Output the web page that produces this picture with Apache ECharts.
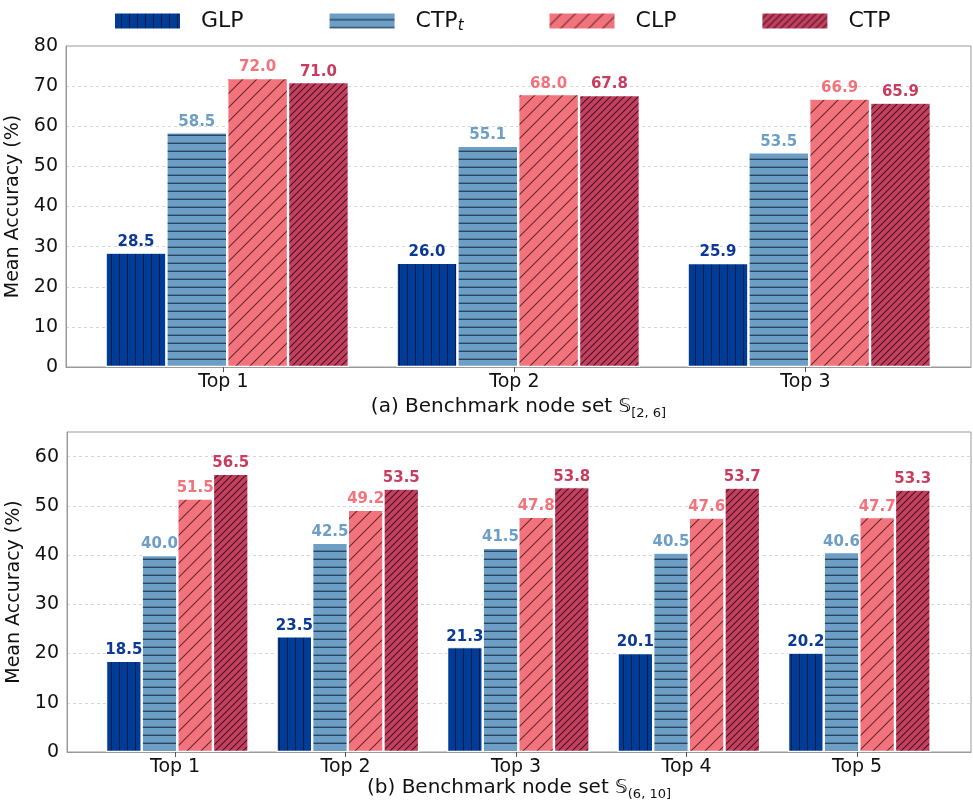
<!DOCTYPE html>
<html><head><meta charset="utf-8">
<script src="https://cdn.jsdelivr.net/npm/echarts@6/dist/echarts.min.js"></script>
<style>html,body{margin:0;padding:0;background:#fff}#c{width:973px;height:803px}</style>
</head><body><div id="c"></div>
<script>
// ---- data ----
const seriesNames = ['GLP', 'CTP_t', 'CLP', 'CTP'];
const catsA = ['Top 1', 'Top 2', 'Top 3'];
const glpA  = [28.5, 26.0, 25.9];
const ctptA = [58.5, 55.1, 53.5];
const clpA  = [72.0, 68.0, 66.9];
const ctpA  = [71.0, 67.8, 65.9];
const catsB = ['Top 1', 'Top 2', 'Top 3', 'Top 4', 'Top 5'];
const glpB  = [18.5, 23.5, 21.3, 20.1, 20.2];
const ctptB = [40.0, 42.5, 41.5, 40.5, 40.6];
const clpB  = [51.5, 49.2, 47.8, 47.6, 47.7];
const ctpB  = [56.5, 53.5, 53.8, 53.7, 53.3];
const yTicksA = [0, 10, 20, 30, 40, 50, 60, 70, 80];
const yTicksB = [0, 10, 20, 30, 40, 50, 60];

// ---- styles ----
const FONT = 'DejaVu Sans';
const colors = ['#003c96', '#6c9ec6', '#f2737c', '#c4405f'];
const lineColors = ['#0b1f4e', '#2a4560', '#6a2830', '#4a1224'];
const labelColors = ['#0a3a96', '#6c9ec6', '#f2737c', '#c83d5e'];
const TICK_SHIFT = -0.013;

function makePattern(bg, lc, type) {
  const cv = document.createElement('canvas');
  let s = 8;
  if (type === 'diag') s = 14;
  if (type === 'diag2') s = 7;
  cv.width = s; cv.height = s;
  const g = cv.getContext('2d');
  g.fillStyle = bg; g.fillRect(0, 0, s, s);
  g.strokeStyle = lc; g.lineWidth = 1.1;
  g.beginPath();
  if (type === 'v') { g.moveTo(s - 0.5, 0); g.lineTo(s - 0.5, s); }
  else if (type === 'h') { g.lineWidth = 1.4; g.moveTo(0, s - 0.7); g.lineTo(s, s - 0.7); }
  else {
    g.moveTo(0, s); g.lineTo(s, 0);
    g.moveTo(-2, 2); g.lineTo(2, -2);
    g.moveTo(s - 2, s + 2); g.lineTo(s + 2, s - 2);
  }
  g.stroke();
  return { image: cv, repeat: 'repeat' };
}
const patterns = [
  makePattern(colors[0], lineColors[0], 'v'),
  makePattern(colors[1], lineColors[1], 'h'),
  makePattern(colors[2], lineColors[2], 'diag'),
  makePattern(colors[3], lineColors[3], 'diag2')
];

function toPts(arr) { return arr.map((v, i) => [i, v]); }

function mkSeries(name, idx, vals, axisIdx) {
  return {
    name: name, type: 'bar', xAxisIndex: axisIdx, yAxisIndex: axisIdx,
    data: toPts(vals),
    barWidth: '20.9%', barGap: '0%',
    itemStyle: { color: patterns[idx], borderColor: '#ffffff', borderWidth: 1.2 },
    label: {
      show: true, position: 'top', distance: 3,
      formatter: p => p.value[1].toFixed(1),
      color: labelColors[idx], fontFamily: FONT, fontWeight: 'bold', fontSize: 15
    },
    emphasis: { disabled: true }
  };
}

const BORDER = '#9a9a9a';
function xAxisCfg(cats, gridIdx, min, max, caption, sub, gap) {
  const ticks = cats.map((c, i) => i + TICK_SHIFT);
  return {
    type: 'value', gridIndex: gridIdx, min: min, max: max,
    minInterval: 1, maxInterval: 1,
    axisLine: { show: true, onZero: false, lineStyle: { color: BORDER, width: 1 } },
    axisTick: { show: true, customValues: ticks, length: 5, lineStyle: { color: '#555' } },
    axisLabel: {
      customValues: ticks,
      formatter: v => cats[Math.round(v)] || '',
      color: '#111', fontFamily: FONT, fontSize: 19, margin: 6
    },
    splitLine: { show: false },
    name: '{m|' + caption + ' \uD835\uDD4A}{s|' + sub + '}',
    nameLocation: 'middle', nameGap: gap,
    nameTextStyle: {
      rich: {
        m: { fontFamily: FONT, fontSize: 20, color: '#111', lineHeight: 26, verticalAlign: 'middle' },
        s: { fontFamily: FONT, fontSize: 13, color: '#111', lineHeight: 12, verticalAlign: 'bottom' }
      }
    }
  };
}
function yAxisCfg(gridIdx, max, ticks) {
  return {
    type: 'value', gridIndex: gridIdx, min: 0, max: max, interval: 10,
    axisLine: { show: true, onZero: false, lineStyle: { color: BORDER, width: 1 } },
    axisTick: { show: false },
    axisLabel: {
      formatter: v => (ticks.indexOf(v) >= 0 ? String(v) : ''),
      color: '#111', fontFamily: FONT, fontSize: 19, margin: 8
    },
    splitLine: { show: true, lineStyle: { color: '#cccccc', type: [3, 3], width: 0.8 } },
    name: 'Mean Accuracy (%)', nameLocation: 'middle', nameGap: 33,
    nameTextStyle: { fontFamily: FONT, fontSize: 19, color: '#111' }
  };
}

const series = [];
const valsA = [glpA, ctptA, clpA, ctpA];
const valsB = [glpB, ctptB, clpB, ctpB];
seriesNames.forEach((n, i) => series.push(mkSeries(n, i, valsA[i], 0)));
seriesNames.forEach((n, i) => series.push(mkSeries(n, i, valsB[i], 1)));

const chart = echarts.init(document.getElementById('c'), null, { renderer: 'canvas' });
chart.setOption({
  animation: false,
  backgroundColor: '#ffffff',
  legend: {
    data: seriesNames, top: 5, left: 108, itemGap: 84,
    icon: 'rect', itemWidth: 67, itemHeight: 17,
    formatter: n => n === 'CTP_t' ? '{a|CTP}{t|t}' : '{a|' + n + '}',
    textStyle: {
      color: '#111',
      rich: {
        a: { fontFamily: FONT, fontSize: 22, color: '#111', lineHeight: 26, padding: [0, 0, 0, 15] },
        t: { fontFamily: FONT, fontSize: 15, fontStyle: 'italic', color: '#111', lineHeight: 13, verticalAlign: 'bottom' }
      }
    },
    selectedMode: false
  },
  grid: [
    { left: 66, right: 2, top: 46, height: 321, show: true, borderColor: BORDER, borderWidth: 1, backgroundColor: 'transparent', outerBoundsMode: 'none', containLabel: false },
    { left: 67, right: 2, top: 432, height: 320, show: true, borderColor: BORDER, borderWidth: 1, backgroundColor: 'transparent', outerBoundsMode: 'none', containLabel: false }
  ],
  xAxis: [
    xAxisCfg(catsA, 0, -0.554, 2.556, '(a) Benchmark node set', '[2, 6]', 27),
    xAxisCfg(catsB, 1, -0.647, 4.655, '(b) Benchmark node set', '(6, 10]', 21)
  ],
  yAxis: [yAxisCfg(0, 80, yTicksA), yAxisCfg(1, 65, yTicksB)],
  series: series
});
</script></body></html>
